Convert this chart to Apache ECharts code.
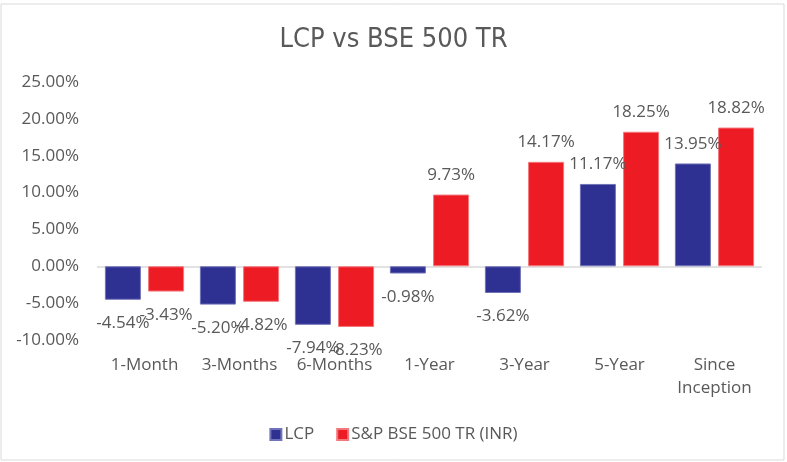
<!DOCTYPE html>
<html>
<head>
<meta charset="utf-8">
<script src="https://cdn.jsdelivr.net/npm/echarts@6/dist/echarts.min.js"></script>
<style>html,body{margin:0;padding:0;background:#fff;}#c{width:787px;height:462px;}</style>
</head>
<body>
<div id="c"></div>
<script>
const titleText = 'LCP vs BSE 500 TR';
const categories = ['1-Month', '3-Months', '6-Months', '1-Year', '3-Year', '5-Year', 'Since\nInception'];
const seriesNames = ['LCP', 'S&P BSE 500 TR (INR)'];
const lcpValues = [-4.54, -5.20, -7.94, -0.98, -3.62, 11.17, 13.95];
const bseValues = [-3.43, -4.82, -8.23, 9.73, 14.17, 18.25, 18.82];
const yMin = -10, yMax = 25, yStep = 5;

const txt = '#595959';
const font = 'Open Sans';
const chart = echarts.init(document.getElementById('c'));
function toItems(arr) {
  return arr.map(v => ({value: v, label: {distance: v < 0 ? 15 : 11}}));
}
function lbl() {
  return {
    show: true,
    position: 'outside',
    color: txt,
    fontFamily: font,
    fontSize: 17,
    formatter: p => p.value.toFixed(2) + '%'
  };
}
chart.setOption({
  animation: false,
  graphic: [{
    type: 'rect', shape: {x: 1, y: 4, width: 783, height: 456},
    style: {fill: 'none', stroke: '#d9d9d9', lineWidth: 1}, silent: true, z: -1
  }],
  title: {
    text: titleText, left: 'center', top: 21,
    textStyle: {fontFamily: 'DejaVu Sans Condensed', fontWeight: 'normal', fontSize: 27, color: txt}
  },
  legend: {
    data: seriesNames, bottom: 14, left: 'center', icon: 'rect',
    itemWidth: 11, itemHeight: 11, itemGap: 22,
    textStyle: {fontFamily: font, fontSize: 17, color: txt, padding: [0, 0, 0, -2]}
  },
  grid: {left: 97, right: 25, top: 82, bottom: 122, containLabel: false},
  xAxis: {
    type: 'category', data: categories,
    axisLine: {show: false, onZero: false}, axisTick: {show: false},
    axisLabel: {color: txt, fontFamily: font, fontSize: 17, margin: 14, lineHeight: 23, interval: 0}
  },
  yAxis: {
    type: 'value', min: yMin, max: yMax, interval: yStep,
    splitLine: {show: false}, axisLine: {show: false}, axisTick: {show: false},
    axisLabel: {color: txt, fontFamily: font, fontSize: 17, margin: 18, formatter: v => v.toFixed(2) + '%'}
  },
  series: [{
    name: seriesNames[0], type: 'bar', data: toItems(lcpValues), barWidth: 36, barGap: '20%',
    itemStyle: {color: '#2E3192', borderColor: '#7173b8', borderWidth: 1},
    label: lbl(),
    markLine: {
      silent: true, symbol: ['none', 'none'], label: {show: false},
      lineStyle: {color: '#d9d9d9', type: 'solid', width: 1.5},
      data: [{yAxis: 0}], z: 1
    },
    z: 3
  }, {
    name: seriesNames[1], type: 'bar', data: toItems(bseValues), barWidth: 36,
    itemStyle: {color: '#ED1C24', borderColor: '#f3787c', borderWidth: 1},
    label: lbl(), z: 3
  }]
});
</script>
</body>
</html>
